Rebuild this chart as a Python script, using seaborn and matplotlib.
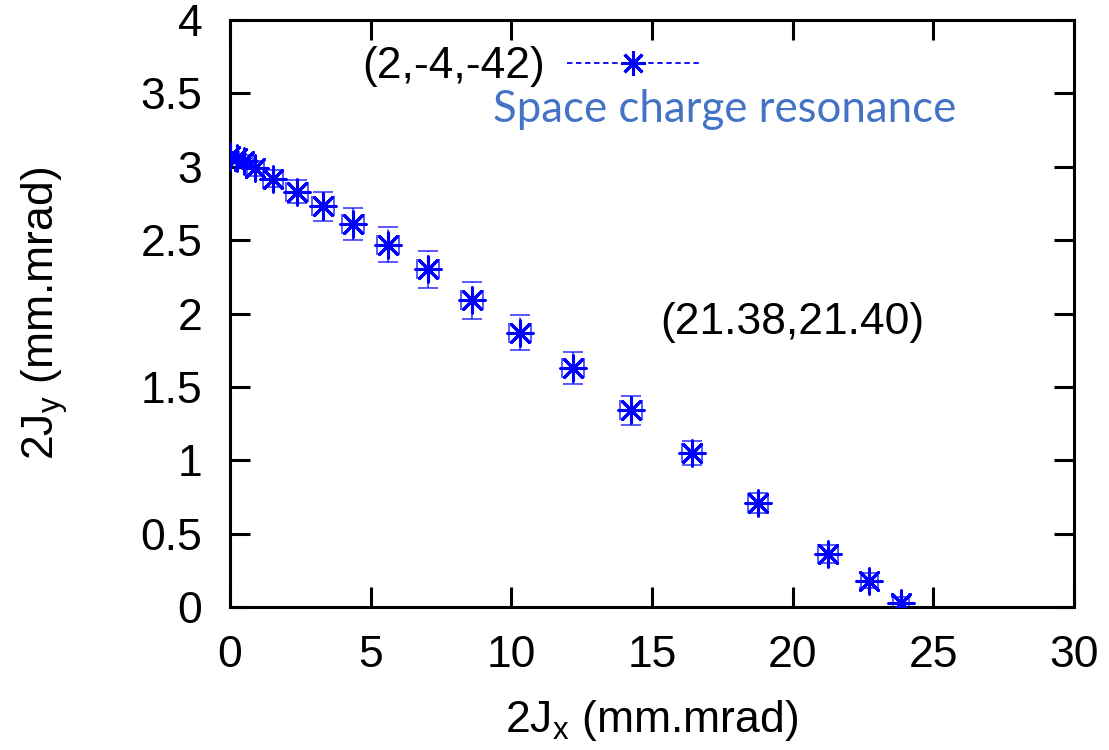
import numpy as np
import matplotlib
matplotlib.use("Agg")
import matplotlib.pyplot as plt
import seaborn as sns
from matplotlib.lines import Line2D

# Configuração
sns.set_style("ticks")
plt.rcParams['font.family'] = ['Liberation Sans', 'DejaVu Sans']
plt.rcParams['mathtext.fontset'] = 'custom'
plt.rcParams['mathtext.rm'] = 'Liberation Sans'
plt.rcParams['text.color'] = 'black'
plt.rcParams['axes.labelcolor'] = 'black'

# Dados
jx = [0.0, 0.25, 0.5, 0.9, 1.53, 2.38, 3.31, 4.37, 5.62, 7.04, 8.60,
      10.31, 12.19, 14.26, 16.42, 18.77, 21.26, 22.72, 23.85]
jy = [3.07, 3.06, 3.04, 2.99, 2.92, 2.83, 2.73, 2.61, 2.47, 2.30, 2.09,
      1.87, 1.63, 1.34, 1.05, 0.71, 0.36, 0.18, 0.03]
jy_err = [0.03, 0.03, 0.04, 0.05, 0.06, 0.08, 0.10, 0.11, 0.12, 0.125, 0.125,
          0.12, 0.11, 0.10, 0.08, 0.07, 0.06, 0.05, 0.04]
jx_err = [0.3, 0.3, 0.3, 0.3, 0.35, 0.4, 0.4, 0.4, 0.4, 0.4, 0.4,
          0.4, 0.4, 0.4, 0.35, 0.35, 0.35, 0.3, 0.3]
legend_label = '(2,-4,-42)'
tune_label = '(21.38,21.40)'
note = 'Space charge resonance'
xticks = [0, 5, 10, 15, 20, 25, 30]
yticks = [0, 0.5, 1, 1.5, 2, 2.5, 3, 3.5, 4]
ytick_labels = ['0', '0.5', '1', '1.5', '2', '2.5', '3', '3.5', '4']

FS = 32
blue = '#0000ff'

fig = plt.figure(figsize=(11.09, 7.5), dpi=100)
ax = fig.add_axes([0.2074, 0.1907, 0.7610, 0.7826])

eb = ax.errorbar(jx, jy, xerr=jx_err, yerr=jy_err, fmt='none', ecolor=blue,
                 elinewidth=1.3, capsize=7, capthick=1.3, alpha=0.7, zorder=2)
for lc in eb[2]:
    lc.set_linestyle((0, (3, 2)))

sns.scatterplot(x=jx, y=jy, marker=(8, 2, 0), s=330, color=blue,
                linewidth=2.2, ax=ax, zorder=3, legend=False)

ax.set_xlim(0, 30)
ax.set_ylim(0, 4)
ax.set_xticks(xticks)
ax.set_yticks(yticks)
ax.set_yticklabels(ytick_labels)
ax.tick_params(direction='in', length=14.4, width=2.2, labelsize=FS,
               pad=20, top=True, right=True, colors='black')
for s in ax.spines.values():
    s.set_linewidth(2.2)
    s.set_color('black')

ax.set_xlabel('2J$_\\mathregular{x}$ (mm.mrad)', fontsize=FS)
ax.set_ylabel('2J$_\\mathregular{y}$ (mm.mrad)', fontsize=FS)
ax.xaxis.set_label_coords(0.5, -0.155)
ax.yaxis.set_label_coords(-0.19, 0.5)

# legenda estilo gnuplot
handle = Line2D([], [], color=blue, ls=(0, (3, 2)), lw=1.3,
                marker=(8, 2, 0), markersize=18, markeredgewidth=2.2)
ax.legend(handles=[handle], labels=[legend_label], markerfirst=False,
          frameon=False, fontsize=FS, handlelength=3.0, handletextpad=0.5,
          loc='center right', bbox_to_anchor=(0.557, 0.92), borderaxespad=0,
          borderpad=0)

ax.text(20.0, 1.94, tune_label, fontsize=FS, ha='center', va='center')
ax.text(0.5865, 0.847, note, transform=ax.transAxes, fontsize=31.5,
        family=['Lato', 'DejaVu Sans'], color='#4472C4', ha='center',
        va='center')

fig.savefig('out.png', dpi=100)
